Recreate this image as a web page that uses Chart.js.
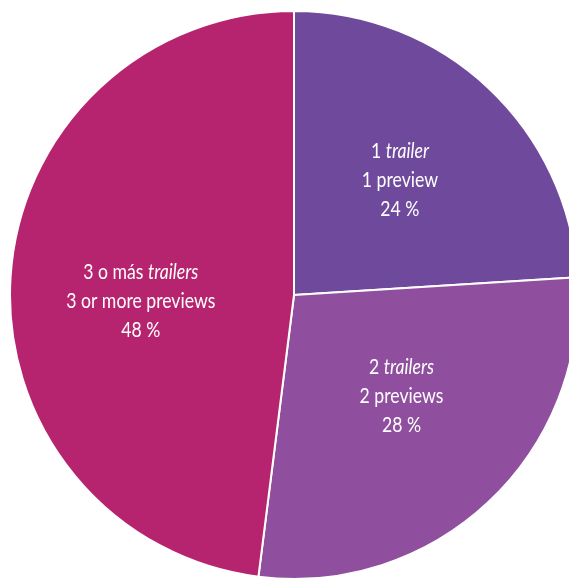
<!DOCTYPE html>
<html lang="es">

<head>
    <meta charset="UTF-8">
    <title>Trailers</title>
    <style>
        html, body { margin: 0; padding: 0; background: #fff; overflow: hidden; width: 569px; height: 579px; }
        #wrap { position: absolute; left: 9px; top: 10px; width: 570px; height: 570px; }
    </style>
</head>

<body>
    <div id="wrap">
        <canvas id="myChart" width="570" height="570"></canvas>
    </div>
    <script src="https://cdn.jsdelivr.net/npm/chart.js"></script>
    <script>
        // número de trailers antes de la película
        const counts = ['1', '2', '3 o más'];
        const trailerWords = ['trailer', 'trailers', 'trailers'];
        const englishLabels = ['1 preview', '2 previews', '3 or more previews'];
        const shares = [24, 28, 48];
        const sliceColors = ['#6f4a9c', '#8f4f9e', '#b6246f'];

        const ctx = document.getElementById('myChart');

        // texto blanco dentro de cada porción
        const sliceText = {
            id: 'sliceText',
            afterDatasetsDraw(chart, args, opts) {
                const c = chart.ctx;
                const arcs = chart.getDatasetMeta(0).data;
                const fam = 'Lato, "Open Sans", sans-serif';
                const size = 21;
                const lineH = 29;
                const squeeze = 0.84;
                c.save();
                c.fillStyle = '#fff';
                c.textBaseline = 'middle';
                arcs.forEach((arc, i) => {
                    const p = arc.getProps(['x', 'y', 'startAngle', 'endAngle', 'outerRadius'], true);
                    const tweak = opts.tweaks[i];
                    const mid = (p.startAngle + p.endAngle) / 2 + tweak.da * Math.PI / 180;
                    const r = p.outerRadius * tweak.r;
                    const cx = p.x + Math.cos(mid) * r;
                    const cy = p.y + Math.sin(mid) * r;

                    c.save();
                    c.translate(cx, cy);
                    c.scale(squeeze, 1);

                    // primera línea: número normal + palabra en cursiva
                    const a = counts[i] + ' ';
                    const b = trailerWords[i];
                    c.font = size + 'px ' + fam;
                    const wa = c.measureText(a).width;
                    c.font = 'italic ' + size + 'px ' + fam;
                    const wb = c.measureText(b).width;
                    const x0 = -(wa + wb) / 2;
                    c.textAlign = 'left';
                    c.font = size + 'px ' + fam;
                    c.fillText(a, x0, -lineH);
                    c.font = 'italic ' + size + 'px ' + fam;
                    c.fillText(b, x0 + wa, -lineH);

                    c.textAlign = 'center';
                    c.font = size + 'px ' + fam;
                    c.fillText(englishLabels[i], 0, 0);
                    c.fillText(shares[i] + ' %', 0, lineH);
                    c.restore();
                });
                c.restore();
            }
        };

        new Chart(ctx, {
            type: 'pie',
            data: {
                labels: englishLabels,
                datasets: [{
                    data: shares,
                    backgroundColor: sliceColors,
                    borderColor: '#fff',
                    borderWidth: 2
                }]
            },
            options: {
                responsive: false,
                animation: false,
                rotation: 0,
                layout: { padding: 0 },
                plugins: {
                    legend: { display: false },
                    tooltip: { enabled: false },
                    sliceText: {
                        tweaks: [
                            { da: -0.5, r: 0.55 },
                            { da: -3.5, r: 0.52 },
                            { da: -5.8, r: 0.54 }
                        ]
                    }
                }
            },
            plugins: [sliceText]
        });
    </script>
</body>

</html>
